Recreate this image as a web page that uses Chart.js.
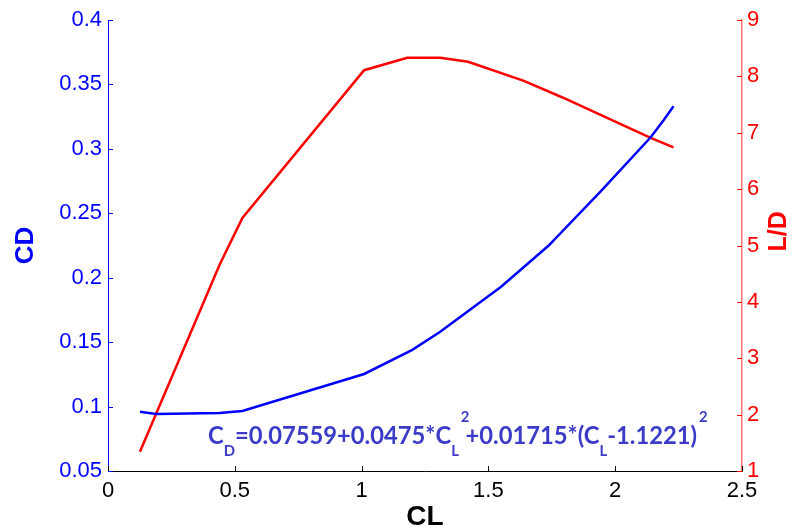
<!DOCTYPE html>
<html>
<head>
<meta charset="utf-8">
<script src="https://cdn.jsdelivr.net/npm/chart.js@4.4.0/dist/chart.umd.min.js"></script>
<style>
  html, body { margin: 0; padding: 0; background: #fff; }
</style>
</head>
<body>
<canvas id="chart" width="793" height="531"></canvas>
<script>
'use strict';

// CD against CL (blue, left axis)
var cdCL = [0.126, 0.19, 0.44, 0.53, 1.01, 1.2, 1.31, 1.55, 1.74, 1.77, 1.94, 2.14, 2.19, 2.23];
var cdValues = [0.096, 0.0942, 0.095, 0.0966, 0.1253, 0.144, 0.158, 0.193, 0.2254, 0.2316, 0.2665, 0.309, 0.322, 0.333];

// L/D against CL (red, right axis)
var ldCL = [0.126, 0.44, 0.53, 1.01, 1.18, 1.31, 1.42, 1.64, 1.79, 2.14, 2.23];
var ldValues = [1.34, 4.66, 5.49, 8.11, 8.33, 8.33, 8.26, 7.92, 7.63, 6.91, 6.74];

// tick labels
var clTicks = [0, 0.5, 1, 1.5, 2, 2.5];
var cdTicks = [0.05, 0.1, 0.15, 0.2, 0.25, 0.3, 0.35, 0.4];
var ldTicks = [1, 2, 3, 4, 5, 6, 7, 8, 9];

// fitted drag polar, drawn as text inside the plot
var fitText = [
  ['C', 'n'], ['D', 'sub'], ['=0.07559+0.0475*C', 'n'], ['L', 'sub'], ['2', 'sup'],
  ['+0.01715*(C', 'n'], ['L', 'sub'], ['-1.1221)', 'n'], ['2', 'sup']
];

var tickFont = { family: '"Liberation Sans", Arial, sans-serif', size: 22 };

function toPoints(xs, ys) {
  return xs.map(function(x, i) { return { x: x, y: ys[i] }; });
}

function fixedTicks(list) {
  return function(scale) {
    scale.ticks = list.map(function(v) { return { value: v }; });
  };
}

function plainLabel(value) {
  return String(Number(value.toFixed(3)));
}

// ticks point into the plot, like the original figure
var innerTicks = {
  id: 'innerTicks',
  afterDraw: function(chart) {
    var ctx = chart.ctx;
    var area = chart.chartArea;
    var s = chart.scales;
    ctx.save();
    ctx.lineWidth = 1;

    ctx.strokeStyle = '#000';
    s.x.ticks.forEach(function(t) {
      var px = Math.round(s.x.getPixelForValue(t.value)) + 0.5;
      ctx.beginPath();
      ctx.moveTo(px, area.bottom);
      ctx.lineTo(px, area.bottom - 5);
      ctx.stroke();
    });

    ctx.strokeStyle = '#0000ff';
    s.y.ticks.forEach(function(t) {
      var py = Math.round(s.y.getPixelForValue(t.value)) + 0.5;
      ctx.beginPath();
      ctx.moveTo(area.left, py);
      ctx.lineTo(area.left + 5, py);
      ctx.stroke();
    });

    ctx.strokeStyle = '#ff0000';
    s.y1.ticks.forEach(function(t) {
      var py = Math.round(s.y1.getPixelForValue(t.value)) + 0.5;
      ctx.beginPath();
      ctx.moveTo(area.right, py);
      ctx.lineTo(area.right - 5, py);
      ctx.stroke();
    });

    // right axis title reads bottom-to-top in the original, Chart.js turns it the other way
    ctx.translate(chart.width - 14, s.y1.getPixelForValue(5.25));
    ctx.rotate(-Math.PI / 2);
    ctx.fillStyle = '#ff0000';
    ctx.font = 'bold 25px "Liberation Sans", Arial, sans-serif';
    ctx.textAlign = 'center';
    ctx.textBaseline = 'middle';
    ctx.fillText('L/D', 0, 0);
    ctx.restore();
  }
};

var fitLabel = {
  id: 'fitLabel',
  afterDatasetsDraw: function(chart) {
    var ctx = chart.ctx;
    var s = chart.scales;
    var x0 = s.x.getPixelForValue(0.394);
    var x1 = s.x.getPixelForValue(2.323);
    var y0 = s.y.getPixelForValue(0.071);
    var mainFont = 'bold 24px Lato, "Open Sans", sans-serif';
    var smallFont = 'bold 15px Lato, "Open Sans", sans-serif';

    ctx.save();
    // width of everything up to ")" — stretched to the span seen in the original
    var total = 0;
    fitText.forEach(function(p, i) {
      if (i === fitText.length - 1) return;
      ctx.font = p[1] === 'n' ? mainFont : smallFont;
      total += ctx.measureText(p[0]).width - (p[1] === 'sup' ? 2 : 0);
    });
    var f = (x1 - x0) / total;

    ctx.translate(x0, y0);
    ctx.scale(f, 1);
    ctx.fillStyle = '#3b3bc8';
    ctx.textBaseline = 'alphabetic';
    var x = 0;
    fitText.forEach(function(p) {
      if (p[1] === 'n') {
        ctx.font = mainFont;
        ctx.fillText(p[0], x, 0);
        x += ctx.measureText(p[0]).width;
      } else if (p[1] === 'sub') {
        ctx.font = smallFont;
        ctx.fillText(p[0], x, 12);
        x += ctx.measureText(p[0]).width;
      } else {
        ctx.font = smallFont;
        ctx.fillText(p[0], x + 2, -22);
        x += ctx.measureText(p[0]).width - 2;
      }
    });
    ctx.restore();
  }
};

new Chart(document.getElementById('chart').getContext('2d'), {
  type: 'scatter',
  data: {
    datasets: [
      {
        label: 'CD',
        data: toPoints(cdCL, cdValues),
        showLine: true,
        borderColor: '#0000ff',
        backgroundColor: '#0000ff',
        borderWidth: 2.5,
        pointRadius: 0,
        tension: 0,
        yAxisID: 'y'
      },
      {
        label: 'L/D',
        data: toPoints(ldCL, ldValues),
        showLine: true,
        borderColor: '#ff0000',
        backgroundColor: '#ff0000',
        borderWidth: 2.5,
        pointRadius: 0,
        tension: 0,
        yAxisID: 'y1'
      }
    ]
  },
  options: {
    responsive: false,
    animation: false,
    layout: { padding: { top: 20, left: 0, right: 0, bottom: 0 } },
    plugins: {
      legend: { display: false },
      tooltip: { enabled: false }
    },
    scales: {
      x: {
        type: 'linear',
        min: 0,
        max: 2.5,
        afterBuildTicks: fixedTicks(clTicks),
        afterFit: function(scale) { scale.height = 60; },
        grid: { display: false, drawTicks: false },
        border: { display: true, color: '#000', width: 1 },
        ticks: {
          color: '#000',
          padding: 7,
          maxRotation: 0,
          font: tickFont,
          callback: plainLabel
        },
        title: {
          display: true,
          text: 'CL',
          color: '#000',
          padding: 0,
          font: { family: '"Liberation Sans", Arial, sans-serif', size: 28, weight: 'bold', lineHeight: 1 }
        }
      },
      y: {
        type: 'linear',
        position: 'left',
        min: 0.05,
        max: 0.4,
        afterBuildTicks: fixedTicks(cdTicks),
        afterFit: function(scale) { scale.width = 108; },
        grid: { display: false, drawTicks: false },
        border: { display: true, color: '#0000ff', width: 1 },
        ticks: {
          color: '#0000ff',
          padding: 6,
          font: tickFont,
          callback: plainLabel
        },
        title: {
          display: true,
          text: 'CD',
          color: '#0000ff',
          padding: { top: 13, bottom: 0 },
          font: { family: '"Liberation Sans", Arial, sans-serif', size: 26, weight: 'bold', lineHeight: 1 }
        }
      },
      y1: {
        type: 'linear',
        position: 'right',
        min: 1,
        max: 9,
        afterBuildTicks: fixedTicks(ldTicks),
        afterFit: function(scale) { scale.width = 51; },
        grid: { display: false, drawTicks: false },
        border: { display: true, color: '#ff7070', width: 1.5 },
        ticks: {
          color: '#ff0000',
          padding: 5,
          font: tickFont,
          callback: plainLabel
        },
        title: { display: false }
      }
    }
  },
  plugins: [innerTicks, fitLabel]
});
</script>
</body>
</html>
